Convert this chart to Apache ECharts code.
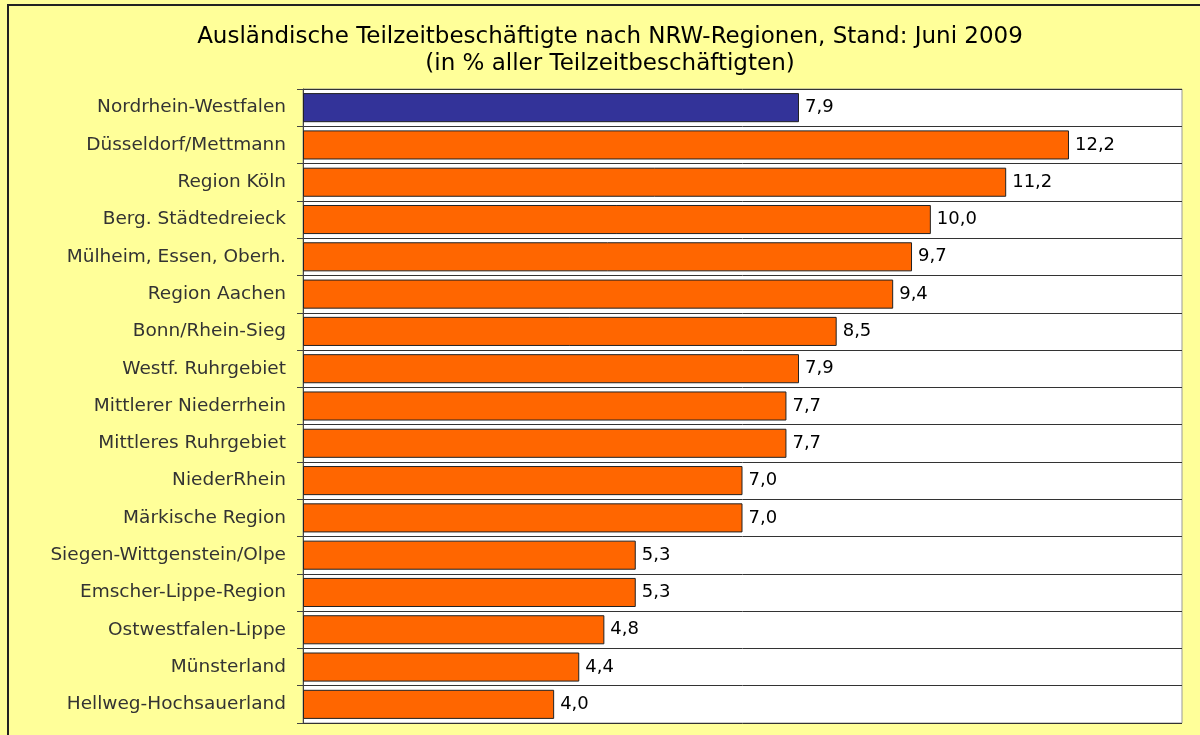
<!DOCTYPE html>
<html>
<head>
<meta charset="utf-8">
<script src="https://cdn.jsdelivr.net/npm/echarts@6/dist/echarts.min.js"></script>
<style>
html,body{margin:0;padding:0;background:#ffff99;}
#chart{width:1200px;height:735px;}
</style>
</head>
<body>
<div id="chart"></div>
<script>
// Regionen (von oben nach unten)
var regions = ['Nordrhein-Westfalen', 'Düsseldorf/Mettmann', 'Region Köln', 'Berg. Städtedreieck',
    'Mülheim, Essen, Oberh.', 'Region Aachen', 'Bonn/Rhein-Sieg', 'Westf. Ruhrgebiet',
    'Mittlerer Niederrhein', 'Mittleres Ruhrgebiet', 'NiederRhein', 'Märkische Region',
    'Siegen-Wittgenstein/Olpe', 'Emscher-Lippe-Region', 'Ostwestfalen-Lippe', 'Münsterland',
    'Hellweg-Hochsauerland'];
// Anteil in %
var shares = [7.9, 12.2, 11.2, 10.0, 9.7, 9.4, 8.5, 7.9, 7.7, 7.7, 7.0, 7.0, 5.3, 5.3, 4.8, 4.4, 4.0];
var titleLines = ['Ausländische Teilzeitbeschäftigte nach NRW-Regionen, Stand: Juni 2009',
    '(in % aller Teilzeitbeschäftigten)'];

var myChart = echarts.init(document.getElementById('chart'));
var barData = shares.map(function (v, i) {
    return {
        value: v,
        itemStyle: { color: i === 0 ? '#333399' : '#ff6600' }
    };
});
var option = {
    backgroundColor: '#ffff99',
    animation: false,
    title: {
        text: titleLines.join('\n'),
        left: 605,
        textAlign: 'center',
        top: 19,
        textStyle: {
            fontFamily: 'DejaVu Sans',
            fontSize: 23,
            fontWeight: 'normal',
            color: '#000',
            lineHeight: 27
        }
    },
    graphic: [{
        type: 'rect',
        shape: { x: 8, y: 5, width: 1300, height: 800 },
        style: { fill: 'none', stroke: '#222', lineWidth: 2 },
        silent: true
    }],
    grid: {
        left: 303, right: 18, top: 89, bottom: 12,
        show: true,
        backgroundColor: '#fff',
        borderColor: '#999',
        borderWidth: 1
    },
    xAxis: {
        type: 'value',
        min: 0,
        max: 14,
        show: false
    },
    yAxis: {
        type: 'category',
        data: regions,
        inverse: true,
        axisLine: { show: true, lineStyle: { color: '#444', width: 1 } },
        axisTick: { show: true, length: 6, lineStyle: { color: '#444' } },
        splitLine: { show: true, lineStyle: { color: '#333', width: 1 } },
        axisLabel: {
            fontFamily: 'DejaVu Sans',
            fontSize: 18.5,
            color: '#333',
            margin: 17
        }
    },
    series: [{
        type: 'bar',
        data: barData,
        barCategoryGap: '22%',
        itemStyle: { borderColor: '#222', borderWidth: 1 },
        label: {
            show: true,
            position: 'right',
            distance: 6,
            fontFamily: 'DejaVu Sans',
            fontSize: 18,
            color: '#000',
            formatter: function (p) {
                return p.value.toFixed(1).replace('.', ',');
            }
        }
    }]
};
myChart.setOption(option, true);
</script>
</body>
</html>
